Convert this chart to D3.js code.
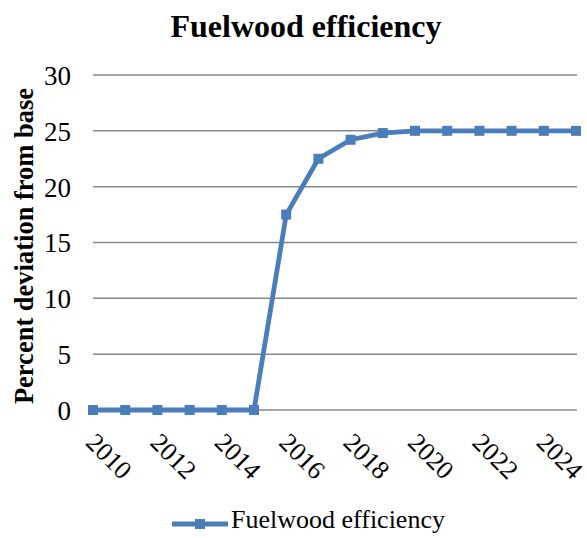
<!DOCTYPE html>
<html>
<head>
<meta charset="utf-8">
<script src="https://cdn.jsdelivr.net/npm/d3@7"></script>
<style>
  body { margin: 0; background: #fff; }
  text { font-family: "Liberation Serif", "Times New Roman", serif; fill: #000; }
</style>
</head>
<body>
<div id="chart"></div>
<script>
// Fuelwood efficiency line chart

var years = [2010, 2011, 2012, 2013, 2014, 2015, 2016, 2017, 2018, 2019, 2020, 2021, 2022, 2023, 2024, 2025];
var values = [0, 0, 0, 0, 0, 0, 17.5, 22.5, 24.2, 24.8, 25, 25, 25, 25, 25, 25];
var yTicks = [0, 5, 10, 15, 20, 25, 30];
var xTickYears = [2010, 2012, 2014, 2016, 2018, 2020, 2022, 2024];
var seriesName = "Fuelwood efficiency";

var totwidth = 587,
    totheight = 538,
    color = "#4a7ebb";

var svg = d3.select("#chart").append("svg")
    .attr("width", totwidth)
    .attr("height", totheight);

var xScale = d3.scaleLinear()
    .domain([years[0], years[years.length - 1]])
    .range([93, 576]);

var yScale = d3.scaleLinear()
    .domain([0, 30])
    .range([410, 75]);

// title
svg.append("text")
    .attr("x", 306)
    .attr("y", 37)
    .attr("text-anchor", "middle")
    .style("font-size", "32px")
    .style("font-weight", "bold")
    .text("Fuelwood efficiency");

// gridlines
svg.append("g").selectAll("line")
    .data(yTicks)
    .enter().append("line")
      .attr("x1", 93)
      .attr("x2", 577)
      .attr("y1", function(d) { return yScale(d); })
      .attr("y2", function(d) { return yScale(d); })
      .attr("stroke", "#888")
      .attr("stroke-width", 1.5);

// y axis labels
var yAxis = svg.append("g")
    .attr("transform", "translate(93,0)")
    .call(d3.axisLeft(yScale).tickValues(yTicks).tickSize(0).tickPadding(22));
yAxis.select(".domain").remove();
yAxis.selectAll("text")
    .style("font-family", "'Liberation Serif', serif")
    .style("font-size", "27px")
    .attr("dy", "0.35em");

// y axis title
svg.append("text")
    .attr("transform", "translate(33,246) rotate(-90)")
    .attr("text-anchor", "middle")
    .style("font-size", "26.5px")
    .style("font-weight", "bold")
    .text("Percent deviation from base");

// x axis labels, rotated
var xAxis = svg.append("g")
    .attr("transform", "translate(0,410)")
    .call(d3.axisBottom(xScale).tickValues(xTickYears).tickSize(0).tickFormat(d3.format("d")));
xAxis.select(".domain").remove();
xAxis.selectAll("text")
    .style("font-family", "'Liberation Serif', serif")
    .style("font-size", "26px")
    .attr("text-anchor", "start")
    .attr("y", 0)
    .attr("dy", 0)
    .attr("transform", "translate(-9,34) rotate(45)");

// line
var line = d3.line()
    .x(function(d, i) { return xScale(years[i]); })
    .y(function(d) { return yScale(d); });

svg.append("path")
    .datum(values)
    .attr("fill", "none")
    .attr("stroke", color)
    .attr("stroke-width", 4.8)
    .attr("stroke-linejoin", "round")
    .attr("d", line);

svg.append("g").selectAll("rect")
    .data(values)
    .enter().append("rect")
      .attr("x", function(d, i) { return xScale(years[i]) - 5; })
      .attr("y", function(d) { return yScale(d) - 5; })
      .attr("width", 10)
      .attr("height", 10)
      .attr("fill", color);

// legend
var legend = svg.append("g").attr("transform", "translate(0,524)");
legend.append("line")
    .attr("x1", 172).attr("x2", 228)
    .attr("y1", 0).attr("y2", 0)
    .attr("stroke", color)
    .attr("stroke-width", 4.8);
legend.append("rect")
    .attr("x", 195).attr("y", -5)
    .attr("width", 10).attr("height", 10)
    .attr("fill", color);
legend.append("text")
    .attr("x", 231)
    .attr("y", 4)
    .style("font-size", "26px")
    .text(seriesName);
</script>
</body>
</html>
